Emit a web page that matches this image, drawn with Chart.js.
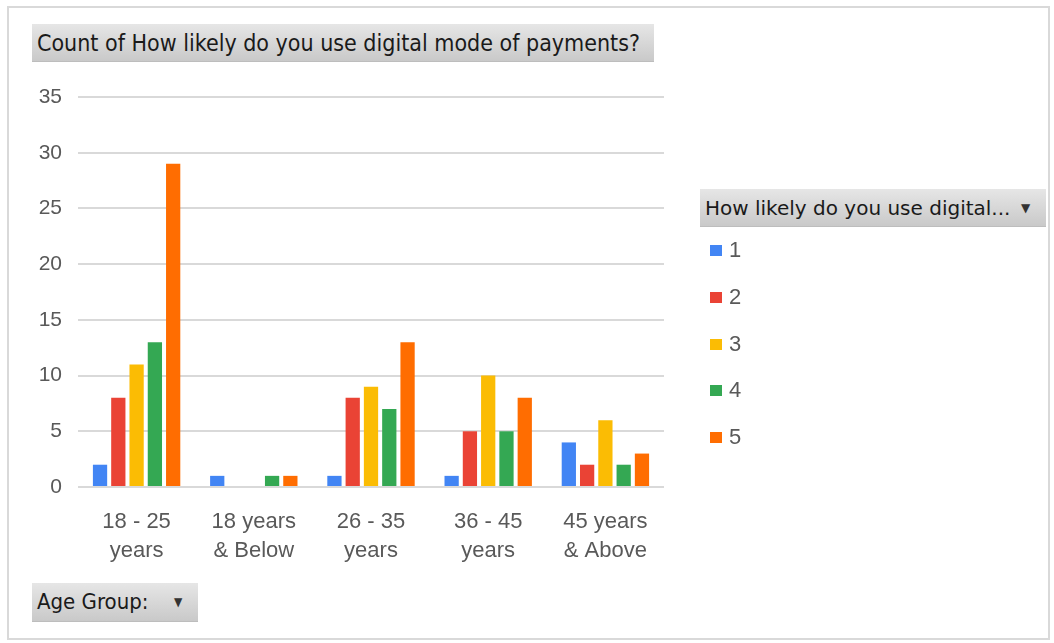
<!DOCTYPE html>
<html>
<head>
<meta charset="utf-8">
<script src="https://cdn.jsdelivr.net/npm/chart.js@4/dist/chart.umd.min.js"></script>
<style>
    body { margin: 0; background: #fff; font-family: "Liberation Sans", Arial, sans-serif; }
    #wrap { position: relative; width: 1054px; height: 643px; overflow: hidden; }
    #frame { position: absolute; left: 7px; top: 6px; width: 1039px; height: 630px; border: 2px solid #d9d9d9; }
    canvas { position: absolute; left: 0; top: 0; }
    .pill {
        position: absolute;
        background: linear-gradient(#e6e6e6, #c9c9c9);
        border-bottom: 1px solid #bdbdbd;
        color: #1a1a1a;
        font-family: "DejaVu Sans Condensed", "Liberation Sans Narrow", sans-serif;
        font-size: 23px;
        line-height: 38px;
        padding-left: 5px;
        box-sizing: border-box;
        white-space: nowrap;
    }
    .pill .arrow { position: absolute; top: 0; font-size: 12px; color: #333; }
    #title { left: 32px; top: 24px; width: 622px; height: 38px; }
    #legendHead { left: 700px; top: 189px; width: 346px; height: 38px; font-family: "DejaVu Sans", sans-serif; font-size: 20px; }
    #ageGroup { left: 32px; top: 583px; width: 166px; height: 39px; font-size: 22px; }
    #legend { position: absolute; left: 710px; top: 234px; }
    .item { position: relative; height: 46.8px; font-size: 22px; color: #595959; }
    .item span.box { position: absolute; left: 0; top: 11px; width: 12px; height: 11px; }
    .item span.lbl { position: absolute; left: 19px; top: 3px; }
</style>
</head>
<body>
<div id="wrap">
    <div id="frame"></div>
    <canvas id="chart" width="1054" height="643"></canvas>
    <div class="pill" id="title">Count of How likely do you use digital mode of payments?</div>
    <div class="pill" id="legendHead">How likely do you use digital...<span class="arrow" style="left:321px">&#9660;</span></div>
    <div class="pill" id="ageGroup">Age Group:<span class="arrow" style="left:142px">&#9660;</span></div>
    <div id="legend"></div>
</div>
<script>
const ageGroups = [['18 - 25', 'years'], ['18 years', '& Below'], ['26 - 35', 'years'], ['36 - 45', 'years'], ['45 years', '& Above']];
const ratingLabels = ['1', '2', '3', '4', '5'];
const ratingColors = ['#4285F4', '#EA4335', '#FBBC04', '#34A853', '#FF6D01'];

const rating1 = [2, 1, 1, 1, 4];
const rating2 = [8, 0, 8, 5, 2];
const rating3 = [11, 0, 9, 10, 6];
const rating4 = [13, 1, 7, 5, 2];
const rating5 = [29, 1, 13, 8, 3];
const seriesValues = [rating1, rating2, rating3, rating4, rating5];

const yTicks = [0, 5, 10, 15, 20, 25, 30, 35];

function renderLegend() {
    const legend = document.getElementById('legend');
    ratingLabels.forEach((label, i) => {
        const item = document.createElement('div');
        item.className = 'item';
        item.innerHTML = '<span class="box" style="background:' + ratingColors[i] + '"></span><span class="lbl">' + label + '</span>';
        legend.appendChild(item);
    });
}

function renderChart() {
    const ctx = document.getElementById('chart');

    new Chart(ctx, {
        type: 'bar',
        data: {
            labels: ageGroups,
            datasets: seriesValues.map((values, i) => ({
                label: ratingLabels[i],
                data: values,
                backgroundColor: ratingColors[i],
                borderWidth: 0,
                categoryPercentage: 0.78,
                barPercentage: 0.78
            }))
        },
        options: {
            responsive: false,
            animation: false,
            devicePixelRatio: 1,
            layout: {
                padding: { left: 0, right: 390, top: 97, bottom: 0 }
            },
            plugins: {
                legend: { display: false },
                tooltip: { enabled: false }
            },
            scales: {
                x: {
                    grid: { display: false },
                    border: { display: false },
                    ticks: {
                        color: '#595959',
                        font: { family: 'Liberation Sans', size: 22, lineHeight: 1.32 },
                        padding: 12,
                        maxRotation: 0,
                        autoSkip: false
                    },
                    afterFit: (scale) => { scale.height = 156; }
                },
                y: {
                    min: yTicks[0],
                    max: yTicks[yTicks.length - 1],
                    afterBuildTicks: (scale) => {
                        scale.ticks = yTicks.map(v => ({ value: v }));
                    },
                    grid: {
                        color: '#d9d9d9',
                        lineWidth: 2,
                        drawTicks: false
                    },
                    border: { display: false },
                    ticks: {
                        color: '#595959',
                        font: { family: 'Liberation Sans', size: 21 },
                        padding: 16
                    },
                    afterFit: (scale) => { scale.width = 78; }
                }
            }
        }
    });
}

renderLegend();
renderChart();
</script>
</body>
</html>
